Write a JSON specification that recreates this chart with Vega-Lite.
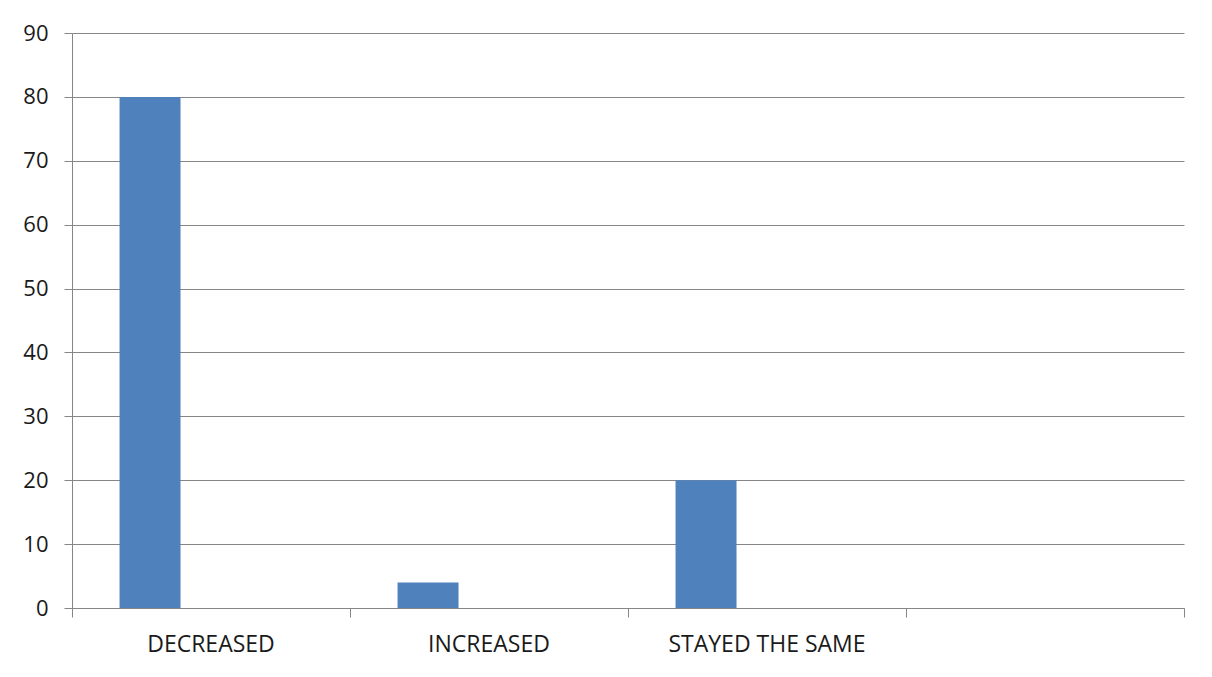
{
  "$schema": "https://vega.github.io/schema/vega-lite/v6.json",
  "autosize": "none",
  "width": 1112,
  "height": 575,
  "padding": {"left": 72, "top": 33, "right": 28, "bottom": 69},
  "background": "white",
  "config": {
    "view": {"stroke": null},
    "axis": {
      "labelFont": "Open Sans",
      "labelFontSize": 22,
      "labelColor": "#1a1a1a",
      "labelLimit": 0,
      "domainColor": "#868686",
      "tickColor": "#868686",
      "gridColor": "#868686",
      "domainWidth": 1,
      "tickWidth": 1,
      "gridWidth": 1,
      "title": null
    }
  },
  "data": {
    "values": [
      {"change": "DECREASED", "series": "Series1", "percent": 80},
      {"change": "INCREASED", "series": "Series1", "percent": 4},
      {"change": "STAYED THE SAME", "series": "Series1", "percent": 20}
    ]
  },
  "resolve": {"axis": {"x": "independent"}},
  "layer": [
    {
      "mark": {"type": "bar", "color": "#4F81BD"},
      "encoding": {
        "x": {
          "field": "change",
          "type": "nominal",
          "sort": null,
          "scale": {
            "domain": ["DECREASED", "INCREASED", "STAYED THE SAME", " "],
            "paddingInner": 0,
            "paddingOuter": 0
          },
          "axis": {
            "orient": "bottom",
            "ticks": false,
            "grid": false,
            "labelAngle": 0,
            "labelFontSize": 23,
            "labelPadding": 25,
            "labelFlush": false,
            "labelOverlap": false
          }
        },
        "xOffset": {
          "field": "series",
          "type": "nominal",
          "scale": {
            "domain": ["Series1", "Series2", "Series3"],
            "paddingInner": 0,
            "paddingOuter": 0.78
          }
        },
        "y": {
          "field": "percent",
          "type": "quantitative",
          "scale": {"domain": [0, 90], "nice": false},
          "axis": {
            "values": [0, 10, 20, 30, 40, 50, 60, 70, 80, 90],
            "tickSize": 8,
            "labelPadding": 16,
            "domain": true
          }
        }
      }
    },
    {
      "mark": {"type": "text"},
      "encoding": {
        "x": {
          "field": "change",
          "type": "nominal",
          "sort": null,
          "axis": {
            "orient": "bottom",
            "labels": false,
            "domain": false,
            "grid": false,
            "ticks": true,
            "tickSize": 9,
            "bandPosition": 0
          }
        }
      }
    },
    {
      "mark": {"type": "text"},
      "encoding": {
        "x": {
          "field": "change",
          "type": "nominal",
          "sort": null,
          "axis": {
            "orient": "bottom",
            "values": [" "],
            "labels": false,
            "domain": false,
            "grid": false,
            "ticks": true,
            "tickSize": 9,
            "bandPosition": 1
          }
        }
      }
    }
  ]
}
